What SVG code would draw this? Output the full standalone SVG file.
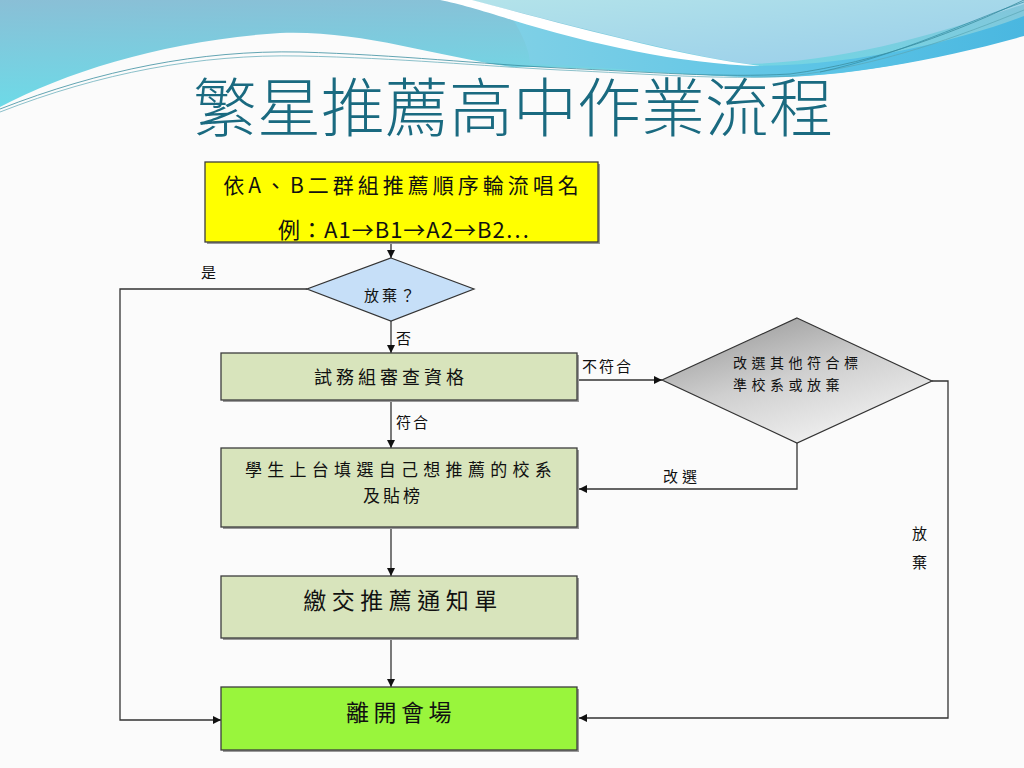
<svg xmlns="http://www.w3.org/2000/svg" width="1024" height="768" viewBox="0 0 1024 768">
<defs>
<linearGradient id="gTop" x1="0" y1="0" x2="0.2" y2="1">
<stop offset="0" stop-color="#8abfd6"/>
<stop offset="1" stop-color="#6cdbe8"/>
</linearGradient>
<linearGradient id="gLight" x1="0" y1="0" x2="1" y2="1">
<stop offset="0" stop-color="#b3e3ea"/>
<stop offset="1" stop-color="#98cdea"/>
</linearGradient>
<linearGradient id="gBand" x1="0" y1="0" x2="1" y2="0">
<stop offset="0" stop-color="#7fd0e6"/>
<stop offset="0.6" stop-color="#5cc4e6"/>
<stop offset="1" stop-color="#4ab7e0"/>
</linearGradient>
<linearGradient id="gDia" x1="0" y1="0" x2="0.6" y2="1">
<stop offset="0" stop-color="#8f8f8f"/>
<stop offset="0.55" stop-color="#cfcfcf"/>
<stop offset="1" stop-color="#f0f0f0"/>
</linearGradient>
<marker id="arr" viewBox="0 0 10 10" refX="10" refY="5" markerWidth="8" markerHeight="8" markerUnits="userSpaceOnUse" orient="auto">
<path d="M0,0 L10,5 L0,10 Z" fill="#111"/>
</marker>
</defs>
<style>
.box{stroke:#3c3c3c;stroke-width:1.3}
.shadow{fill:#9a9a9a}
.t{font-family:"Noto Sans CJK TC","Liberation Sans",sans-serif;fill:#111;text-anchor:middle}
.lbl{font-family:"Noto Sans CJK TC","Liberation Sans",sans-serif;fill:#111;font-size:15px}
.conn{fill:none;stroke:#333;stroke-width:1.3}
</style>
<rect width="1024" height="768" fill="#fbfbfb"/>
<g id="background">
<path d="M0,0 H1024 V34 C930,62 830,80 745,77 C650,73 570,66 512,67 C430,55 360,30 280,33 C170,40 70,70 0,107 Z" fill="url(#gTop)"/>
<path d="M470,0 C570,25 680,55 748,64 C850,62 950,30 1024,4 V0 Z" fill="url(#gLight)"/>
<path d="M512,18 C600,40 690,62 748,66 C860,66 960,40 1024,16 V36 C930,62 830,80 745,77 C660,73 590,66 530,64 C530,50 520,30 512,18 Z" fill="url(#gBand)"/>
<path d="M440,0 L472,0 C570,26 680,56 760,66 C680,64 590,44 512,20 C480,10 460,4 440,0 Z" fill="#ffffff"/>
<path d="M0,109 C100,70 200,50 300,52 C400,55 480,64 560,68 C650,72 720,78 790,74 C880,62 960,30 1024,0" fill="none" stroke="#3b8ea0" stroke-width="0.8"/>
<path d="M0,112 C100,73 200,54 300,56 C400,58 480,66 560,70 C650,74 720,80 790,76 C880,66 960,36 1024,10" fill="none" stroke="#5aa6b5" stroke-width="0.7"/>
<path d="M820,72 C900,55 970,20 1024,2" fill="none" stroke="#2f8aa0" stroke-width="0.7"/>
</g>
<text id="title" x="513" y="131" font-family="'Noto Sans CJK TC','Noto Sans CJK SC',sans-serif" font-size="64" font-weight="300" fill="#1a6a80" text-anchor="middle">繁星推薦高中作業流程</text>
<g id="connectors">
<path class="conn" d="M391,242 V258" marker-end="url(#arr)"/>
<path class="conn" d="M391,321 V353" marker-end="url(#arr)"/>
<path class="conn" d="M307,289 H120 V720 H221" marker-end="url(#arr)"/>
<path class="conn" d="M391,400 V448" marker-end="url(#arr)"/>
<path class="conn" d="M577,380 H662" marker-end="url(#arr)"/>
<path class="conn" d="M797,443 V489 H579" marker-end="url(#arr)"/>
<path class="conn" d="M932,381 H948 V718 H579" marker-end="url(#arr)"/>
<path class="conn" d="M391,527 V576" marker-end="url(#arr)"/>
<path class="conn" d="M391,638 V687" marker-end="url(#arr)"/>
<text class="lbl" x="201" y="278">是</text>
<text class="lbl" x="396" y="344">否</text>
<text class="lbl" x="582" y="372" letter-spacing="2">不符合</text>
<text class="lbl" x="396" y="428" letter-spacing="2">符合</text>
<text class="lbl" x="663" y="482" letter-spacing="4">改選</text>
<text class="lbl" x="912" y="539">放</text>
<text class="lbl" x="912" y="568">棄</text>
</g>
<g id="node-start">
<rect x="207" y="164" width="393" height="80" class="shadow"/>
<rect x="205" y="162" width="393" height="80" fill="#ffff00" class="box"/>
<text class="t" x="403" y="193" font-size="21" letter-spacing="4">依A、B二群組推薦順序輪流唱名</text>
<text class="t" x="404" y="238" font-size="22" letter-spacing="1">例：A1→B1→A2→B2…</text>
</g>
<g id="node-giveup">
<polygon points="391,258 474,289 391,321 307,289" fill="#c6dff8" stroke="#333" stroke-width="1.2"/>
<text class="t" x="391" y="301" font-size="15" letter-spacing="3">放棄？</text>
</g>
<g id="node-check">
<rect x="223" y="355" width="356" height="47" class="shadow"/>
<rect x="221" y="353" width="356" height="47" fill="#d8e4bc" class="box"/>
<text class="t" x="391" y="384" font-size="18" letter-spacing="4">試務組審查資格</text>
</g>
<g id="node-reselect">
<polygon points="797,318 932,381 797,443 662,380" fill="url(#gDia)" stroke="#333" stroke-width="1.2"/>
<text x="733" y="368" font-family="'Noto Sans CJK TC',sans-serif" font-size="14" letter-spacing="4.5" fill="#111">改選其他符合標</text>
<text x="733" y="390" font-family="'Noto Sans CJK TC',sans-serif" font-size="14" letter-spacing="4.5" fill="#111">準校系或放棄</text>
</g>
<g id="node-fill">
<rect x="223" y="450" width="356" height="79" class="shadow"/>
<rect x="221" y="448" width="356" height="79" fill="#d8e4bc" class="box"/>
<text class="t" x="401" y="476" font-size="17" letter-spacing="5.3">學生上台填選自己想推薦的校系</text>
<text class="t" x="393" y="502" font-size="17" letter-spacing="3">及貼榜</text>
</g>
<g id="node-submit">
<rect x="223" y="578" width="356" height="62" class="shadow"/>
<rect x="221" y="576" width="356" height="62" fill="#d8e4bc" class="box"/>
<text class="t" x="403" y="609" font-size="23" letter-spacing="5.5">繳交推薦通知單</text>
</g>
<g id="node-leave">
<rect x="223" y="689" width="356" height="63" class="shadow"/>
<rect x="221" y="687" width="356" height="63" fill="#99f53c" class="box"/>
<text class="t" x="401" y="721" font-size="23" letter-spacing="4.5">離開會場</text>
</g>
</svg>
